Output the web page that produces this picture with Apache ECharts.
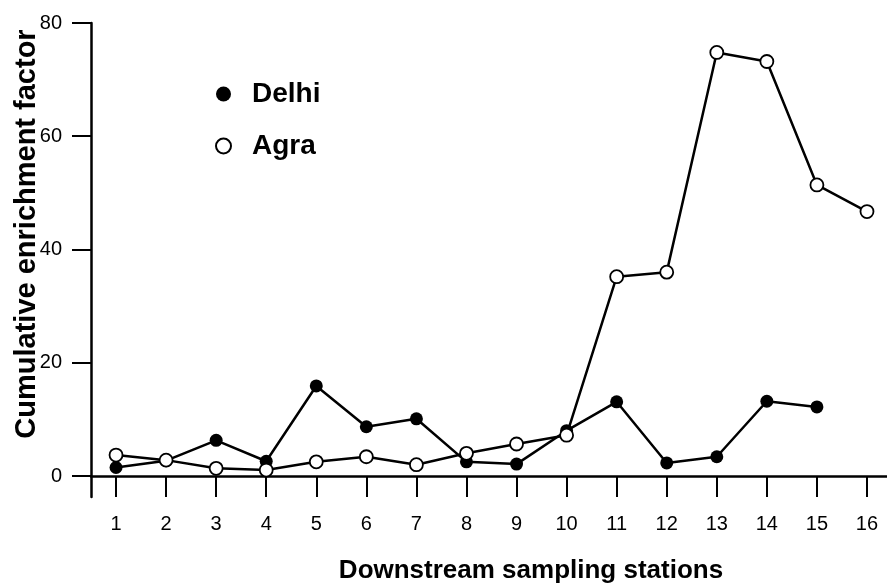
<!DOCTYPE html>
<html>
<head>
<meta charset="utf-8">
<script src="https://cdn.jsdelivr.net/npm/echarts@6/dist/echarts.min.js"></script>
<style>
  html, body { margin: 0; padding: 0; background: #fff; }
  #main { width: 887px; height: 584px; }
</style>
</head>
<body>
<div id="main"></div>
<script>
var stations = [1, 2, 3, 4, 5, 6, 7, 8, 9, 10, 11, 12, 13, 14, 15, 16];
var delhi = [1.5, 2.7, 6.3, 2.6, 15.9, 8.7, 10.1, 2.5, 2.1, 8.0, 13.1, 2.3, 3.4, 13.2, 12.2, null];
var agra = [3.7, 2.8, 1.35, 1.05, 2.5, 3.4, 2.0, 4.0, 5.65, 7.2, 35.2, 36.0, 74.8, 73.2, 51.4, 46.7];
var yTicks = [0, 20, 40, 60, 80];

var myChart = echarts.init(document.getElementById("main"));

function pairs(values) {
  return stations.map(function (s, i) {
    return [s, values[i]];
  });
}

var font = "'Liberation Sans', Arial, Helvetica, sans-serif";

option = {
  animation: false,
  backgroundColor: "#fff",
  textStyle: { fontFamily: font, color: "#000" },
  grid: { left: 91, right: 0, top: 23, bottom: 87, outerBoundsMode: "none", containLabel: false },
  legend: {
    orient: "vertical",
    left: 210,
    top: 75,
    icon: "circle",
    itemWidth: 15,
    itemHeight: 15,
    itemGap: 24,
    textStyle: { fontSize: 28, fontWeight: "bold", color: "#000", fontFamily: font, padding: [0, 0, 0, 16] },
    data: ["Delhi", "Agra"],
  },
  xAxis: {
    type: "value",
    min: 0.5,
    max: 16.4,
    name: "Downstream sampling stations",
    nameLocation: "middle",
    nameGap: 61,
    nameMoveOverlap: false,
    nameTextStyle: { fontSize: 26, fontWeight: "bold", color: "#000", padding: [0, 0, 0, 84] },
    splitLine: { show: false },
    axisLine: { onZero: true, lineStyle: { color: "#000", width: 2.5 } },
    axisTick: { customValues: stations, length: 21, lineStyle: { color: "#000", width: 2 } },
    axisLabel: { customValues: stations, margin: 17, fontSize: 20, color: "#000" },
  },
  yAxis: {
    type: "value",
    min: -3.71,
    max: 80,
    name: "Cumulative enrichment factor",
    nameLocation: "middle",
    nameGap: 50,
    nameMoveOverlap: false,
    nameTextStyle: { fontSize: 29, fontWeight: "bold", color: "#000", padding: [0, 0, 0, 52] },
    splitLine: { show: false },
    axisLine: { show: true, onZero: false, lineStyle: { color: "#000", width: 2.5 } },
    axisTick: { customValues: yTicks, length: 19, lineStyle: { color: "#000", width: 2 } },
    axisLabel: { customValues: yTicks, margin: 29, fontSize: 20, color: "#000" },
  },
  series: [
    {
      name: "Delhi",
      type: "line",
      data: pairs(delhi),
      symbol: "circle",
      symbolSize: 13,
      showAllSymbol: true,
      itemStyle: { color: "#000" },
      lineStyle: { color: "#000", width: 2.5 },
    },
    {
      name: "Agra",
      type: "line",
      data: pairs(agra),
      symbol: "circle",
      symbolSize: 13,
      showAllSymbol: true,
      itemStyle: { color: "#fff", borderColor: "#000", borderWidth: 1.8 },
      lineStyle: { color: "#000", width: 2.5 },
    },
  ],
};

myChart.setOption(option);
</script>
</body>
</html>
